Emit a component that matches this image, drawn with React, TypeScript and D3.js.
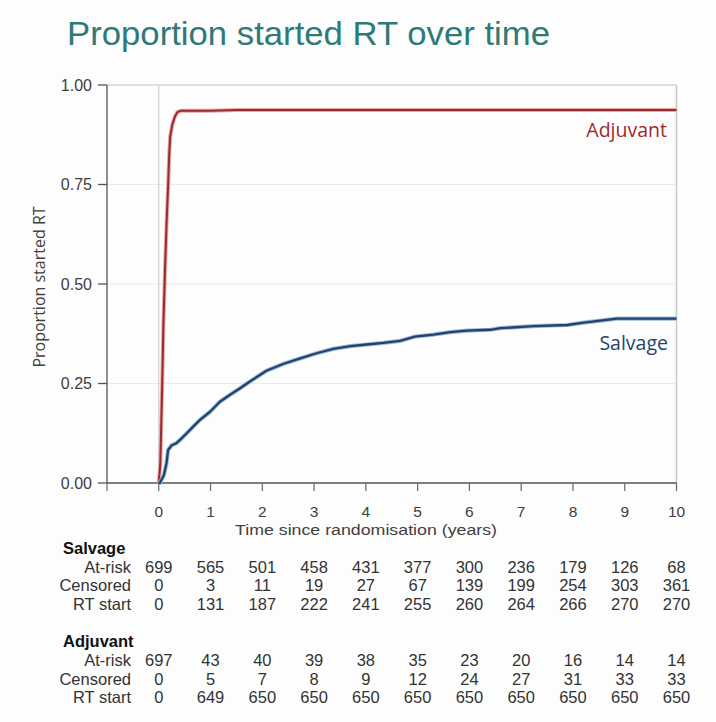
import React from "react";
import * as d3 from "d3";

const xTicks = [-1, 0, 1, 2, 3, 4, 5, 6, 7, 8, 9, 10];
const xTickLabels = ["", "0", "1", "2", "3", "4", "5", "6", "7", "8", "9", "10"];
const yTicks = [0, 0.25, 0.5, 0.75, 1];
const yTickLabels = ["0.00", "0.25", "0.50", "0.75", "1.00"];
const tableTimes = [0, 1, 2, 3, 4, 5, 6, 7, 8, 9, 10];

const salvageT = [0, 0.02, 0.1, 0.15, 0.18, 0.25, 0.34, 0.44, 0.54, 0.66, 0.79, 0.99, 1.18, 1.37, 1.57, 1.76, 2.08, 2.4, 2.73, 3.05, 3.37, 3.7, 4.02, 4.34, 4.66, 4.95, 5.31, 5.63, 5.95, 6.4, 6.6, 7.24, 7.89, 8.21, 8.53, 8.85, 10];
const salvageV = [0, 0, 0.02, 0.05, 0.083, 0.095, 0.1, 0.112, 0.125, 0.141, 0.158, 0.179, 0.204, 0.221, 0.238, 0.255, 0.282, 0.299, 0.313, 0.326, 0.337, 0.344, 0.348, 0.352, 0.357, 0.368, 0.373, 0.379, 0.383, 0.385, 0.389, 0.394, 0.397, 0.403, 0.408, 0.413, 0.413];

const adjuvantT = [0, 0.03, 0.065, 0.09, 0.12, 0.15, 0.18, 0.2, 0.22, 0.26, 0.31, 0.36, 0.42, 1, 1.5, 10];
const adjuvantV = [0, 0.05, 0.24, 0.4, 0.535, 0.65, 0.745, 0.82, 0.87, 0.9, 0.92, 0.932, 0.935, 0.935, 0.937, 0.937];

const rowLabels = ["At-risk", "Censored", "RT start"];
const salvageAtRisk = [699, 565, 501, 458, 431, 377, 300, 236, 179, 126, 68];
const salvageCensored = [0, 3, 11, 19, 27, 67, 139, 199, 254, 303, 361];
const salvageRTStart = [0, 131, 187, 222, 241, 255, 260, 264, 266, 270, 270];
const adjuvantAtRisk = [697, 43, 40, 39, 38, 35, 23, 20, 16, 14, 14];
const adjuvantCensored = [0, 5, 7, 8, 9, 12, 24, 27, 31, 33, 33];
const adjuvantRTStart = [0, 649, 650, 650, 650, 650, 650, 650, 650, 650, 650];

const FONT = "'Open Sans', sans-serif";
const TFONT = "'Liberation Sans', Arial, sans-serif";

export default function App() {
  const x = d3.scaleLinear().domain([-1, 10]).range([107, 676.5]);
  const y = d3.scaleLinear().domain([0, 1]).range([483, 85]);
  const line = d3
    .line<[number, number]>()
    .x((d) => x(d[0]))
    .y((d) => y(d[1]))
    .curve(d3.curveLinear);
  const salv = salvageT.map((t, i) => [t, salvageV[i]] as [number, number]);
  const adj = adjuvantT.map((t, i) => [t, adjuvantV[i]] as [number, number]);

  const tables = [
    { name: "Salvage", top: 548, rows: [salvageAtRisk, salvageCensored, salvageRTStart] },
    { name: "Adjuvant", top: 641.5, rows: [adjuvantAtRisk, adjuvantCensored, adjuvantRTStart] },
  ];
  const rowOffsets = [19, 37.5, 56];

  return (
    <svg
      width={716}
      height={722}
      style={{ position: "absolute", left: 0, top: 0, background: "#fdfdfd" }}
    >
      <rect x={0} y={0} width={716} height={722} fill="#fdfdfd" />
      <text
        x={67}
        y={45}
        fontFamily="'Liberation Sans', Arial, sans-serif"
        fontSize={33}
        fill="#2e7a76"
        textLength={483}
        lengthAdjust="spacingAndGlyphs"
      >
        Proportion started RT over time
      </text>

      {/* gridlines */}
      {[0.25, 0.5, 0.75].map((v) => (
        <line key={v} x1={x(-1)} x2={x(10)} y1={y(v)} y2={y(v)} stroke="#ebebeb" strokeWidth={1} />
      ))}
      <line x1={x(-1)} x2={x(10)} y1={y(1)} y2={y(1)} stroke="#d6d6d6" strokeWidth={1.5} />
      <line x1={x(10)} x2={x(10)} y1={y(1)} y2={y(0)} stroke="#c8c8c8" strokeWidth={1.5} />
      <line x1={x(0)} x2={x(0)} y1={y(1)} y2={y(0)} stroke="#c8c8c8" strokeWidth={1} />

      {/* axes */}
      <line x1={x(-1)} x2={x(-1)} y1={y(1)} y2={y(0)} stroke="#555" strokeWidth={1.3} />
      <line x1={x(-1)} x2={x(10)} y1={y(0)} y2={y(0)} stroke="#555" strokeWidth={1.3} />
      {yTicks.map((v, i) => (
        <g key={v}>
          <line x1={x(-1) - 9} x2={x(-1)} y1={y(v)} y2={y(v)} stroke="#555" strokeWidth={1.3} />
          <text
            x={92}
            y={y(v)}
            dy="0.36em"
            textAnchor="end"
            fontFamily={TFONT}
            fontSize={16}
            fill="#404040"
          >
            {yTickLabels[i]}
          </text>
        </g>
      ))}
      {xTicks.map((t, i) => (
        <g key={t}>
          <line x1={x(t)} x2={x(t)} y1={y(0)} y2={y(0) + 8} stroke="#666" strokeWidth={1.2} />
          <text
            x={x(t)}
            y={511.5}
            dy="0.36em"
            textAnchor="middle"
            fontFamily={TFONT}
            fontSize={15.5}
            fill="#404040"
          >
            {xTickLabels[i]}
          </text>
        </g>
      ))}
      <text
        x={366}
        y={529.5}
        dy="0.36em"
        textAnchor="middle"
        fontFamily={TFONT}
        fontSize={15.5}
        fill="#404040"
        textLength={262}
        lengthAdjust="spacingAndGlyphs"
      >
        Time since randomisation (years)
      </text>
      <text
        transform="translate(39,287) rotate(-90)"
        textAnchor="middle"
        dy="0.36em"
        fontFamily={FONT}
        fontSize={16}
        fill="#404040"
      >
        Proportion started RT
      </text>

      {/* curves */}
      <path d={line(adj) || ""} fill="none" stroke="#e3a9ab" strokeWidth={4} strokeLinejoin="round" />
      <path d={line(adj) || ""} fill="none" stroke="#9c2a2d" strokeWidth={2} strokeLinejoin="round" />
      <path d={line(salv) || ""} fill="none" stroke="#9fbad6" strokeWidth={4.2} strokeLinejoin="round" />
      <path d={line(salv) || ""} fill="none" stroke="#1f446e" strokeWidth={2.3} strokeLinejoin="round" />

      <text x={667} y={130} dy="0.36em" textAnchor="end" fontFamily={FONT} fontSize={19.5} fill="#9c2a2d">
        Adjuvant
      </text>
      <text x={668} y={343} dy="0.36em" textAnchor="end" fontFamily={FONT} fontSize={19.5} fill="#25446c">
        Salvage
      </text>

      {/* risk table */}
      {tables.map((tb) => (
        <g key={tb.name}>
          <text
            x={63}
            y={tb.top}
            dy="0.36em"
            fontFamily={TFONT}
            fontWeight="bold"
            fontSize={16.5}
            fill="#111"
          >
            {tb.name}
          </text>
          {tb.rows.map((row, ri) => (
            <g key={ri}>
              <text
                x={131}
                y={tb.top + rowOffsets[ri]}
                dy="0.36em"
                textAnchor="end"
                fontFamily={TFONT}
                fontSize={16.5}
                fill="#333"
              >
                {rowLabels[ri]}
              </text>
              {row.map((v, ci) => (
                <text
                  key={ci}
                  x={x(tableTimes[ci])}
                  y={tb.top + rowOffsets[ri]}
                  dy="0.36em"
                  textAnchor="middle"
                  fontFamily={TFONT}
                  fontSize={16.5}
                  fill="#333"
                >
                  {v}
                </text>
              ))}
            </g>
          ))}
        </g>
      ))}
    </svg>
  );
}
